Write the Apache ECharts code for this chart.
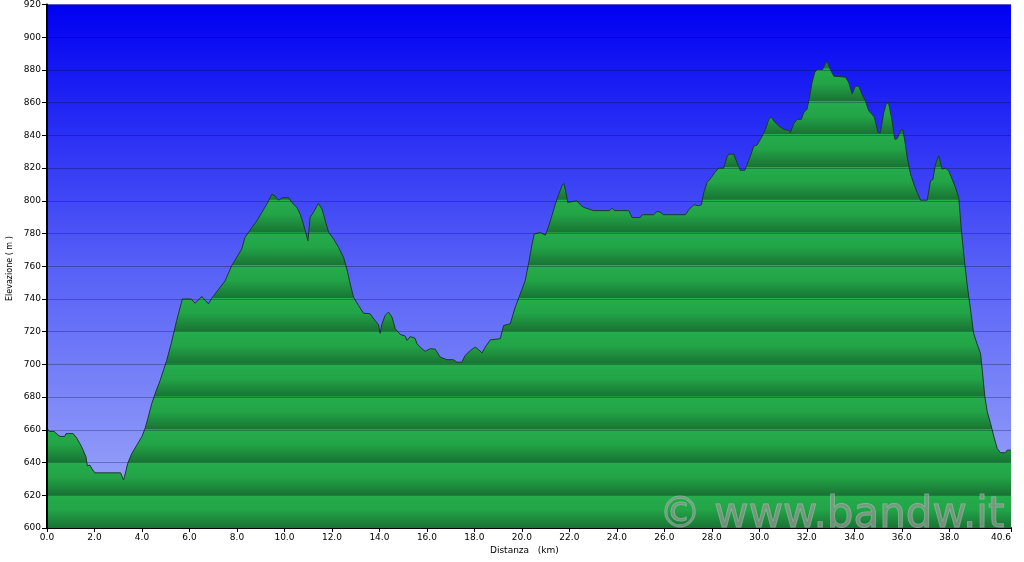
<!DOCTYPE html>
<html>
<head>
<meta charset="utf-8">
<script src="https://cdn.jsdelivr.net/npm/echarts@6/dist/echarts.min.js"></script>
<style>
html,body{margin:0;padding:0;background:#fff;}
#c{width:1024px;height:562px;}
</style>
</head>
<body>
<div id="c"></div>
<script>
// ---- data ----
const distanceKm = [0.0,0.1,0.3,0.45,0.55,0.75,0.8,1.1,1.25,1.46,1.64,1.7,1.81,1.9,2.02,3.1,3.22,3.3,3.4,3.57,3.78,4.0,4.13,4.25,4.41,4.6,4.76,5.04,5.23,5.46,5.7,6.07,6.24,6.52,6.8,6.94,7.5,7.78,8.2,8.34,8.4,8.63,8.84,9.05,9.26,9.47,9.6,9.75,9.93,10.17,10.31,10.52,10.66,10.8,10.99,11.08,11.22,11.43,11.58,11.72,11.86,12.07,12.28,12.49,12.63,12.77,12.91,13.12,13.33,13.6,13.82,13.96,14.03,14.1,14.24,14.38,14.53,14.67,14.88,15.09,15.16,15.3,15.5,15.58,15.79,15.93,16.14,16.35,16.56,16.84,17.12,17.26,17.47,17.61,17.83,18.04,18.18,18.32,18.46,18.67,19.09,19.23,19.51,19.72,19.93,20.14,20.28,20.43,20.52,20.78,20.99,21.06,21.2,21.41,21.55,21.69,21.76,21.83,21.93,22.0,22.32,22.46,22.6,23.02,23.7,23.8,23.9,24.5,24.57,24.64,24.99,25.06,25.55,25.69,25.83,25.97,26.89,27.02,27.24,27.45,27.56,27.66,27.8,27.98,28.12,28.29,28.5,28.64,28.71,28.92,29.06,29.2,29.39,29.49,29.63,29.77,29.9,30.05,30.26,30.4,30.51,30.61,30.82,31.03,31.24,31.31,31.45,31.59,31.77,31.87,32.01,32.11,32.22,32.33,32.43,32.67,32.72,32.85,33.0,33.14,33.63,33.77,33.91,34.05,34.19,34.33,34.47,34.61,34.75,34.85,35.0,35.1,35.24,35.36,35.45,35.57,35.71,35.81,35.95,36.04,36.13,36.23,36.37,36.51,36.65,36.79,37.07,37.21,37.31,37.42,37.56,37.6,37.7,37.84,37.98,38.12,38.26,38.4,38.5,38.61,38.75,38.9,39.03,39.17,39.32,39.39,39.5,39.6,39.74,39.88,40.02,40.16,40.37,40.44,40.6];
const elevationM = [661,659,659,657,656,656,657.7,657.7,655,649.6,643.5,638,638.4,636,633.7,633.7,629.3,633.4,639.5,645.5,650.6,656,660.8,667,676,684,690,702.4,712.6,726.8,740,740,737.4,741.5,737,740.5,751,760.4,770.5,777.6,778,783.7,787.8,792.9,798,804,803,800.4,802,802,799,796,792,785.8,775.6,789.8,792.9,798.4,795,787.8,780.7,776.7,771.5,765.4,758.4,749.2,741,736,731.3,731,726.8,724.4,719,724.4,729.9,732,728.9,721.8,718.3,717.3,714.6,717,716,712.6,709.6,708,709.6,709.3,704.5,702.9,702.9,701.4,701.4,705.5,708.5,710.6,709,707,710.6,715,715.7,723.8,724.8,735,743,751.2,761.4,773.6,779.7,780.7,779,781.7,787.8,798,804,809.2,810.6,807,799,800,800,797.6,796,794,794,795.5,794,794,792,789.8,789.8,791.5,791.5,793.5,793,791.5,791.5,794.4,797.6,797,797.6,805,811.2,814.2,817.3,820,820,826.8,828.5,828.5,823.4,818.7,818.7,822.4,827.5,833.6,834,837.6,843.7,849.8,851.2,848.8,845.8,843.7,843.1,841.7,847.2,849.8,849.8,853.9,856,863,872.2,878.3,880.3,880.3,882,885.4,880,876.2,875.6,872.2,865.5,870.1,870,865,861,854.9,852.9,851,841.7,841.7,853.9,860,859.4,850.8,837.6,838,843.1,843.7,836.6,826.4,816.3,810.2,805.1,800.4,800.4,812.2,813,822.4,827.5,826.8,819.4,820,818.3,813.3,808.2,802,783.7,767.5,749.2,733,718.7,712.6,706.5,696.3,680,671,663.8,655.7,648.6,646,646,647.6,647.6];
const xTickValues = [0,2,4,6,8,10,12,14,16,18,20,22,24,26,28,30,32,34,36,38,40.6];
const xTickLabels = ['0.0','2.0','4.0','6.0','8.0','10.0','12.0','14.0','16.0','18.0','20.0','22.0','24.0','26.0','28.0','30.0','32.0','34.0','36.0','38.0','40.6'];
const yMin = 600, yMax = 920, yStep = 20;
const xTitle = 'Distanza   (km)';
const yTitle = 'Elevazione ( m )';
const watermark = '\u00A9 www.bandw.it';

// ---- chart ----
const GRID_TOP = 3, GRID_BOTTOM = 34, GRID_LEFT = 47, GRID_RIGHT = 13;
const H = 562;
const plotTop = GRID_TOP, plotBottom = H - GRID_BOTTOM;

// banded green fill aligned to 20 m bands
const nBands = (yMax - yMin) / yStep;
const stops = [];
for (let i = 0; i < nBands; i++) {
  const a = i / nBands, b = (i + 1) / nBands, d = b - a;
  stops.push({offset: a, color: '#25ad4c'});
  stops.push({offset: a + d * 0.45, color: '#22a447'});
  stops.push({offset: b - 0.001, color: '#197434'});
}
const areaFill = {type: 'linear', x: 0, y: plotTop, x2: 0, y2: plotBottom, global: true, colorStops: stops};

const chart = echarts.init(document.getElementById('c'), null, {renderer: 'canvas'});
const font = 'DejaVu Sans';
chart.setOption({
  animation: false,
  backgroundColor: '#ffffff',
  grid: {
    left: GRID_LEFT, right: GRID_RIGHT, top: GRID_TOP, bottom: GRID_BOTTOM,
    show: true, borderWidth: 0,
    backgroundColor: {type: 'linear', x: 0, y: 0, x2: 0, y2: 1, colorStops: [
      {offset: 0, color: '#0000f2'},
      {offset: 0.5, color: '#5660f6'},
      {offset: 1, color: '#a2acf9'}
    ]}
  },
  xAxis: {
    type: 'value', min: 0, max: 40.6,
    axisLine: {show: true, onZero: false, lineStyle: {color: '#000', width: 2}},
    axisTick: {show: true, length: 4, customValues: xTickValues, lineStyle: {color: '#000'}},
    axisLabel: {
      customValues: xTickValues, margin: 5, alignMaxLabel: 'right',
      color: '#000', fontFamily: font, fontSize: 9,
      formatter: v => { const i = xTickValues.indexOf(v); return i >= 0 ? xTickLabels[i] : ''; }
    },
    splitLine: {show: false}
  },
  yAxis: {
    type: 'value', min: yMin, max: yMax, interval: yStep, z: 5,
    axisLine: {show: true, lineStyle: {color: '#000', width: 2}},
    axisTick: {show: true, length: 5, lineStyle: {color: '#000'}},
    axisLabel: {color: '#000', fontFamily: font, fontSize: 9, margin: 6},
    splitLine: {show: true, lineStyle: {color: 'rgba(0,0,40,0.28)', width: 1}}
  },
  series: [{
    type: 'line',
    data: distanceKm.map((x, i) => [x, elevationM[i]]),
    showSymbol: false,
    symbol: 'none',
    lineStyle: {color: '#1b3a2c', width: 1},
    areaStyle: {color: areaFill, opacity: 1, origin: 'start'},
    z: 2
  }],
  graphic: [
    {type: 'text', left: 490, top: 546, style: {text: xTitle, font: '9px "DejaVu Sans"', fill: '#000'}},
    {type: 'text', x: 6, y: 301, rotation: Math.PI / 2, style: {text: yTitle, font: '8px "DejaVu Sans"', fill: '#000'}},
    {type: 'text', right: 19, top: 495, z: 100, style: {text: watermark, font: '42px "DejaVu Sans"', fill: 'rgba(150,150,150,0.7)', stroke: 'rgba(255,255,255,0.35)', lineWidth: 1}}
  ]
});
</script>
</body>
</html>
